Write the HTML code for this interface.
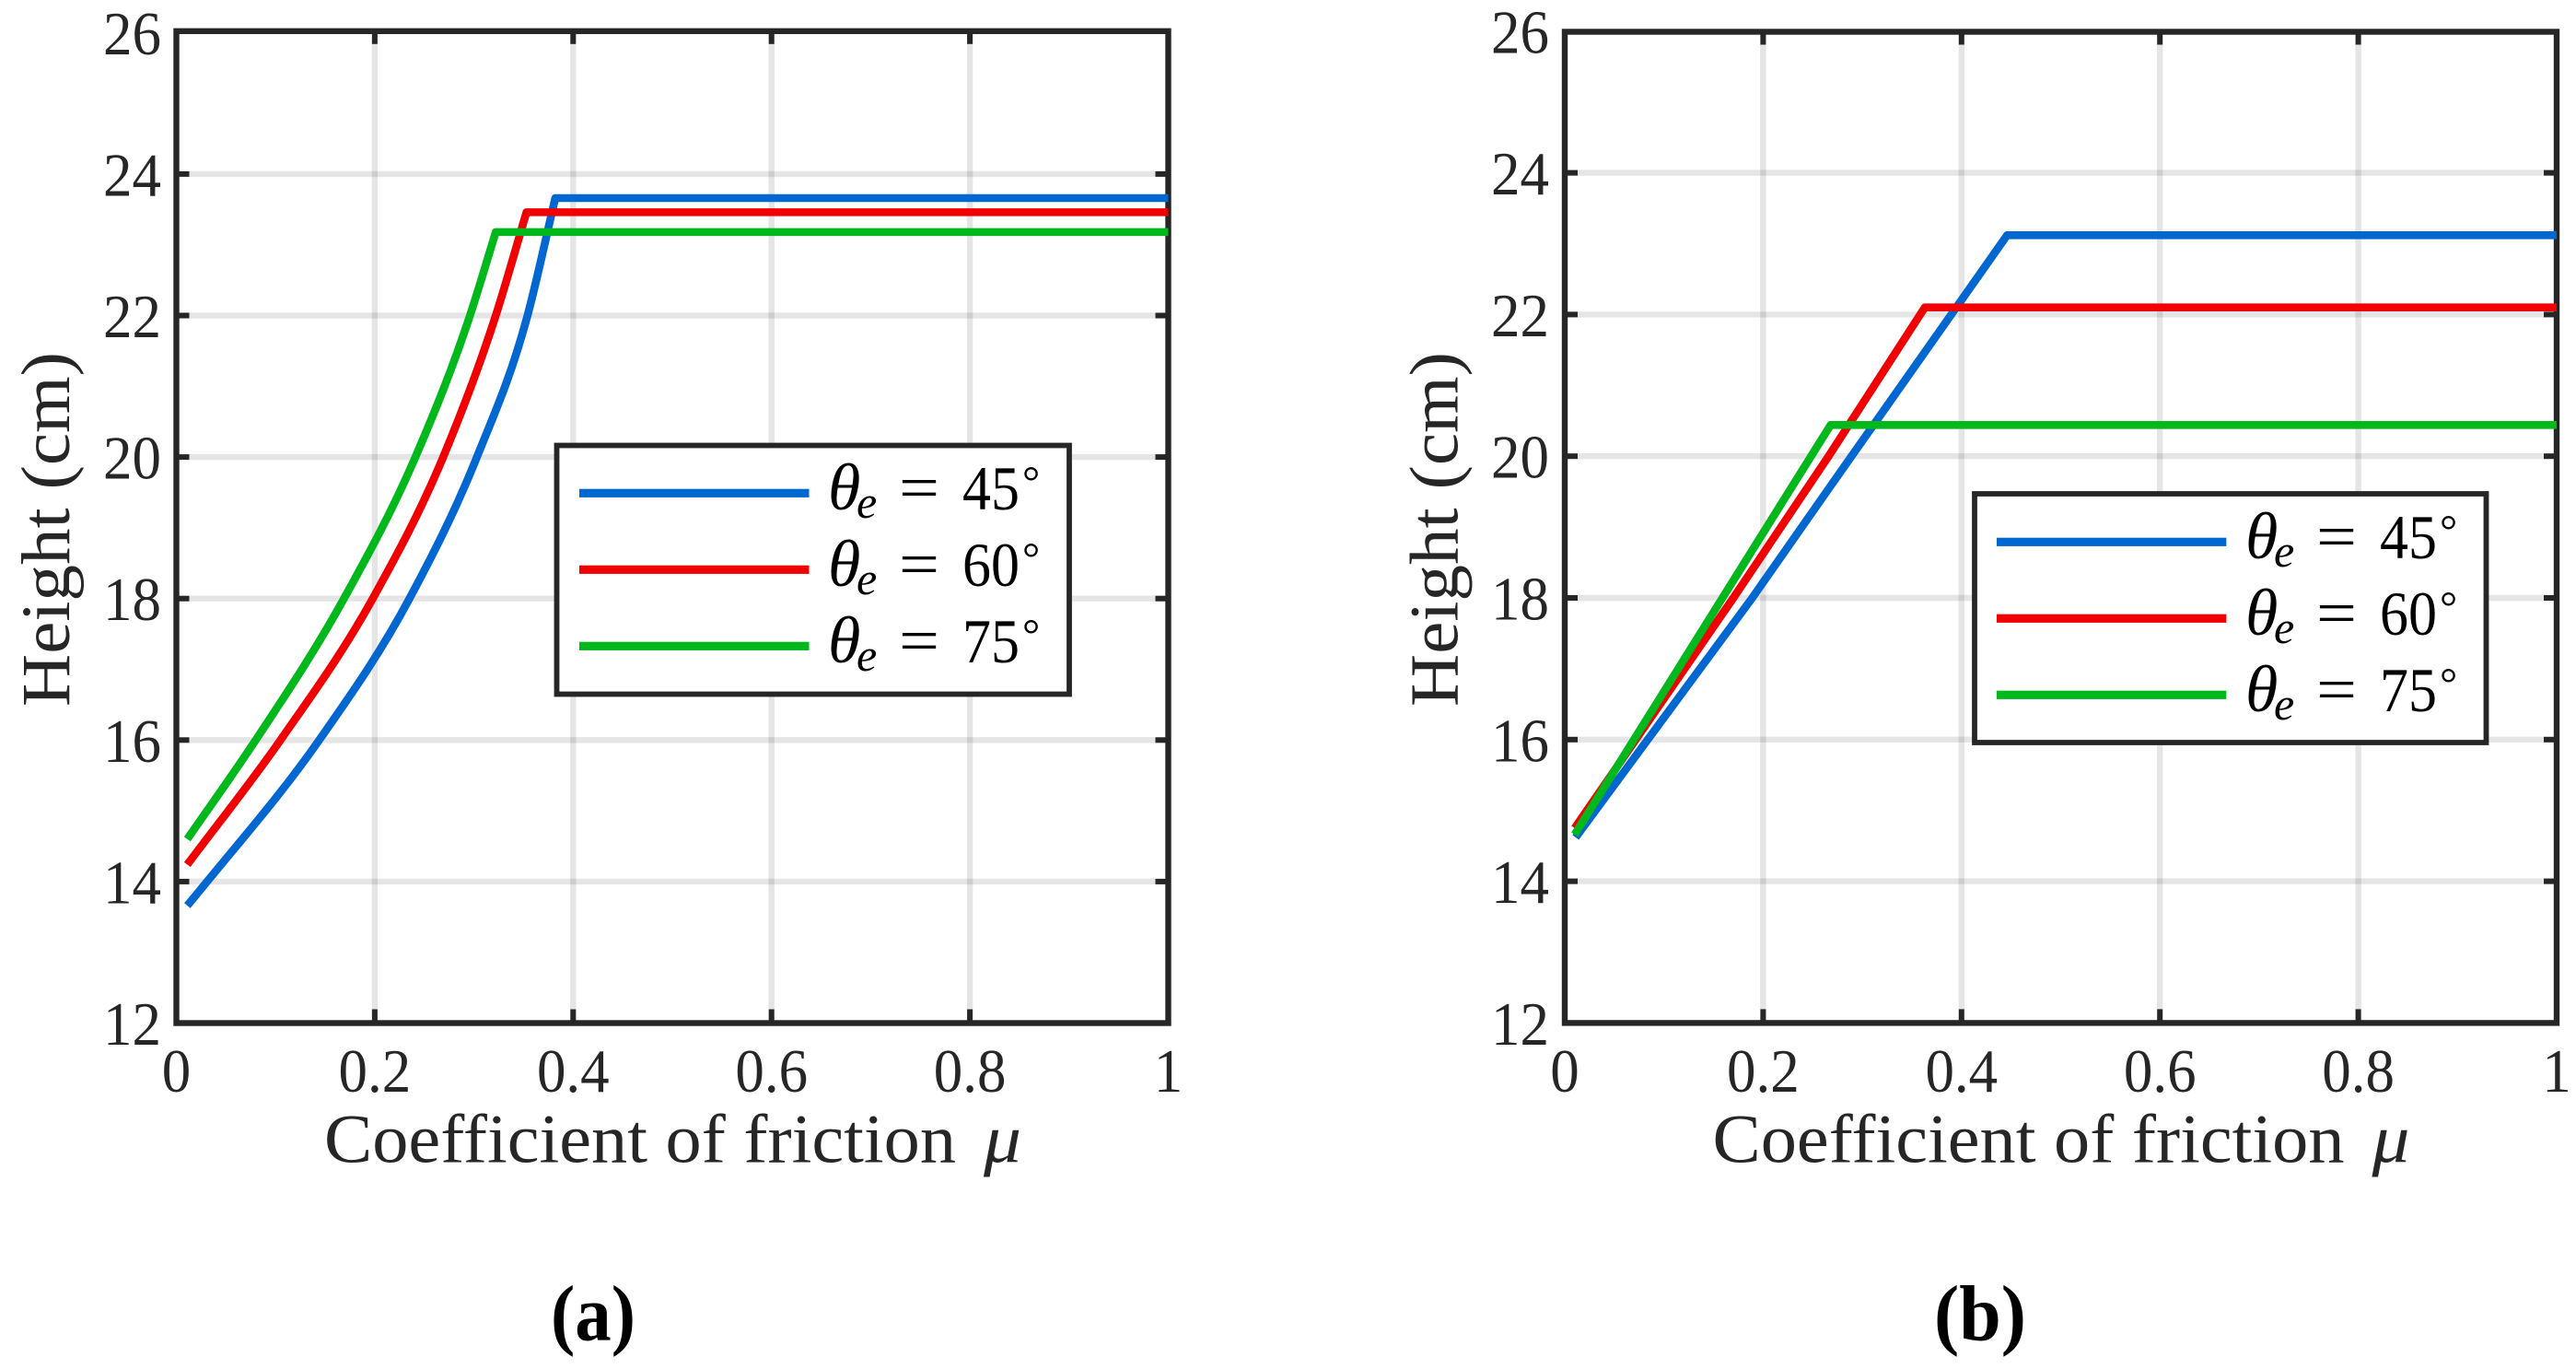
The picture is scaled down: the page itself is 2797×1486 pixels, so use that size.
<!DOCTYPE html>
<html lang="en">
<head>
<meta charset="utf-8">
<title>Height versus coefficient of friction</title>
<style>
html,body{margin:0;padding:0;background:#fff;width:2797px;height:1486px;overflow:hidden}
svg{display:block;position:absolute;left:0;top:0}
text{font-family:"Liberation Serif","DejaVu Serif",serif;fill:#262626}
</style>
</head>
<body>
<svg id="figure" xmlns="http://www.w3.org/2000/svg" width="2797" height="1486" viewBox="0 0 2797 1486"></svg>
<script>
// ---------- shared axis data ----------
const xTicks = [0, 0.2, 0.4, 0.6, 0.8, 1];
const xTickLabels = ["0", "0.2", "0.4", "0.6", "0.8", "1"];
const yTicks = [12, 14, 16, 18, 20, 22, 24, 26];
const yTickLabels = ["12", "14", "16", "18", "20", "22", "24", "26"];
const seriesNames = ["45", "60", "75"];
const seriesSubscripts = ["e", "e", "e"];

// ---------- panel (a) values ----------
const muA45 = [0.011, 0.031, 0.144, 0.235, 0.303, 0.354, 0.382, 1];
const heightA45 = [13.66, 14.00, 16.00, 18.00, 20.00, 22.00, 23.66, 23.66];
const muA60 = [0.011, 0.105, 0.198, 0.269, 0.322, 0.353, 1];
const heightA60 = [14.24, 16.00, 18.00, 20.00, 22.00, 23.46, 23.46];
const muA75 = [0.011, 0.080, 0.169, 0.241, 0.296, 0.322, 1];
const heightA75 = [14.60, 16.00, 18.00, 20.00, 22.00, 23.18, 23.18];

// ---------- panel (b) values ----------
const muB45 = [0.011, 0.189, 0.267, 0.446, 1];
const heightB45 = [14.62, 18.00, 19.56, 23.12, 23.12];
const muB60 = [0.010, 0.170, 0.266, 0.363, 1];
const heightB60 = [14.75, 18.00, 20.00, 22.10, 22.10];
const muB75 = [0.010, 0.159, 0.268, 1];
const heightB75 = [14.66, 18.00, 20.44, 20.44];

const colors = ["#0066d0", "#f00000", "#00b81c"];
const SVGNS = "http://www.w3.org/2000/svg";
const root = document.getElementById("figure");

function mk(tag, attrs, parent, txt) {
  const el = document.createElementNS(SVGNS, tag);
  for (const k in attrs) el.setAttribute(k, attrs[k]);
  if (txt !== undefined) el.textContent = txt;
  parent.appendChild(el);
  return el;
}
function tickWidth(s, fs) {
  let w = 0;
  for (const c of s) w += (c === "." ? 0.25 : 0.5);
  return w * fs * 0.94;
}
// Rising part is a smooth Hermite curve through the read points; the final plateau stays straight with a sharp knee.
function curvePath(xs, ys, smooth) {
  const n = xs.length - 1; // index of plateau end
  const k = n - 1;         // index of knee
  let d = "M" + xs[0].toFixed(2) + " " + ys[0].toFixed(2);
  const slope = [];
  for (let i = 0; i <= k; i++) {
    if (i === 0) slope.push((ys[1] - ys[0]) / (xs[1] - xs[0]));
    else if (i === k) slope.push((ys[k] - ys[k - 1]) / (xs[k] - xs[k - 1]));
    else {
      const h0 = xs[i] - xs[i - 1], h1 = xs[i + 1] - xs[i];
      const d0 = (ys[i] - ys[i - 1]) / h0, d1 = (ys[i + 1] - ys[i]) / h1;
      slope.push((d0 * h1 + d1 * h0) / (h0 + h1));
    }
  }
  for (let i = 1; i <= k; i++) {
    if (!smooth) { d += " L" + xs[i].toFixed(2) + " " + ys[i].toFixed(2); continue; }
    const h = xs[i] - xs[i - 1];
    d += " C" + (xs[i - 1] + h / 3).toFixed(2) + " " + (ys[i - 1] + slope[i - 1] * h / 3).toFixed(2) +
         " " + (xs[i] - h / 3).toFixed(2) + " " + (ys[i] - slope[i] * h / 3).toFixed(2) +
         " " + xs[i].toFixed(2) + " " + ys[i].toFixed(2);
  }
  d += " L" + xs[n].toFixed(2) + " " + ys[n].toFixed(2);
  return d;
}

function drawPanel(p) {
  const g = mk("g", {}, root);
  
  
  const X = v => p.x0 + (v - 0) / (1 - 0) * (p.x1 - p.x0);
  const Y = v => p.y12 - (v - 12) * p.perUnit;
  const yTopAxis = p.boxTop;
  const yBot = Y(12);

  // gridlines
  const grid = mk("g", {stroke: "#000", "stroke-opacity": "0.1", "stroke-width": "6.4"}, g);
  
  
  xTicks.slice(1, -1).forEach(t => {
    const l = mk("line", {x1: X(t), x2: X(t), y1: yTopAxis, y2: yBot}, grid);
    
    
  });
  yTicks.slice(1, -1).forEach(t => {
    const l = mk("line", {x1: p.x0, x2: p.x1, y1: Y(t), y2: Y(t)}, grid);
    
    
  });

  // ticks
  const ticks = mk("g", {stroke: "#262626", "stroke-width": "6"}, g);
  
  
  xTicks.slice(1, -1).forEach(t => {
    const a = mk("line", {x1: X(t), x2: X(t), y1: yBot, y2: yBot - 15}, ticks);
    
    
    const b = mk("line", {x1: X(t), x2: X(t), y1: yTopAxis, y2: yTopAxis + 14}, ticks);
    
    
  });
  yTicks.slice(1, -1).forEach(t => {
    const a = mk("line", {x1: p.x0, x2: p.x0 + 14, y1: Y(t), y2: Y(t)}, ticks);
    
    
    const b = mk("line", {x1: p.x1, x2: p.x1 - 14, y1: Y(t), y2: Y(t)}, ticks);
    
    
  });

  // axes box
  const box = mk("rect", {x: p.x0, y: yTopAxis, width: p.x1 - p.x0, height: yBot - yTopAxis, fill: "none", stroke: "#262626", "stroke-width": "6.4"}, g);
  
  

  // tick labels
  const fs = 67;
  xTicks.forEach((t, i) => {
    const s = xTickLabels[i];
    const el = mk("text", {x: X(t), y: 1185, "text-anchor": "middle", "font-size": fs, textLength: tickWidth(s, fs), lengthAdjust: "spacingAndGlyphs"}, g, s);
    
    
  });
  yTicks.forEach((t, i) => {
    const s = yTickLabels[i];
    const el = mk("text", {x: p.x0 + p.yLabelRight, y: Y(t) + 23.5, "text-anchor": "end", "font-size": fs, textLength: tickWidth(s, fs), lengthAdjust: "spacingAndGlyphs"}, g, s);
    
    
  });

  // axis titles
  const xt = mk("text", {x: p.x0 + 160.5, y: 1261.7, "font-size": 75, textLength: 686, lengthAdjust: "spacingAndGlyphs"}, g, "Coefficient of friction");
  
  
  const mu = mk("text", {x: p.x0 + 876.5, y: 1261.7, "font-size": 75, "font-style": "italic", textLength: 41, lengthAdjust: "spacingAndGlyphs"}, g, "μ");
  
  
  const yt = mk("text", {x: 0, y: 0, "font-size": 75, textLength: 385, lengthAdjust: "spacingAndGlyphs", transform: "translate(" + (p.x0 - 116.5) + " 767) rotate(-90)"}, g, "Height (cm)");
  
  

  // series
  p.series.forEach((s, i) => {
    const d = curvePath(s.mu.map(X), s.h.map(Y), p.smooth);
    const line = mk("path", {d: d, fill: "none", stroke: colors[i], "stroke-width": "8.6", "stroke-linejoin": "round", "stroke-linecap": "butt"}, g);
    
    
  });

  // legend
  const L = p.legend;
  const lg = mk("g", {}, g);
  
  
  const lb = mk("rect", {x: L.x, y: L.y, width: L.w, height: L.h, fill: "#fff", stroke: "#262626", "stroke-width": "5.8"}, lg);
  
  
  seriesNames.forEach((n, i) => {
    const cy = L.rowY + i * 83;
    const k = mk("rect", {x: L.keyX, y: cy - 4.6, width: L.keyW, height: 9.2, fill: colors[i]}, lg);
    
    
    const base = cy + 17.7;
    const black = "fill:#000";
    const th = mk("text", {x: L.tx, y: base, "font-size": 72, "font-style": "italic", style: black}, lg, "θ");
    
    
    const sub = mk("text", {x: L.tx + 31, y: base + 9, "font-size": 50, "font-style": "italic", style: black}, lg, seriesSubscripts[i]);
    
    
    const eq = mk("text", {x: L.tx + 77, y: base - 1, "font-size": 68, textLength: 44, lengthAdjust: "spacingAndGlyphs", style: black}, lg, "=");
    
    
    const num = mk("text", {x: L.tx + 146, y: base, "font-size": 68, textLength: 62, lengthAdjust: "spacingAndGlyphs", style: black}, lg, n);
    
    
    const deg = mk("text", {x: L.tx + 211, y: base - 14, "font-size": 48, style: black}, lg, "°");
    
    
  });

  // caption
  const cap = mk("text", {x: p.capX, y: 1454.5, "text-anchor": "middle", "font-size": 86, "font-weight": "bold", textLength: p.capW, lengthAdjust: "spacingAndGlyphs", style: "fill:#000"}, g, p.caption);
  
  
}

drawPanel({
  id: "panel-a", x0: 191.5, x1: 1268.5, y12: 1110.5, perUnit: 76.8, boxTop: 33.8, yLabelRight: -16.5, smooth: true,
  caption: "(a)", capX: 644, capW: 92,
  series: [{mu: muA45, h: heightA45}, {mu: muA60, h: heightA60}, {mu: muA75, h: heightA75}],
  legend: {x: 604.5, y: 483.5, w: 556.5, h: 270, keyX: 629, keyW: 249.5, rowY: 535.3, tx: 899}
});
drawPanel({
  id: "panel-b", x0: 1699, x1: 2776, y12: 1110.4, perUnit: 76.9, boxTop: 34.5, yLabelRight: -17, smooth: false,
  caption: "(b)", capX: 2150, capW: 100,
  series: [{mu: muB45, h: heightB45}, {mu: muB60, h: heightB60}, {mu: muB75, h: heightB75}],
  legend: {x: 2144, y: 536, w: 555.5, h: 270, keyX: 2168, keyW: 249.3, rowY: 588.3, tx: 2438}
});
</script>
</body>
</html>
